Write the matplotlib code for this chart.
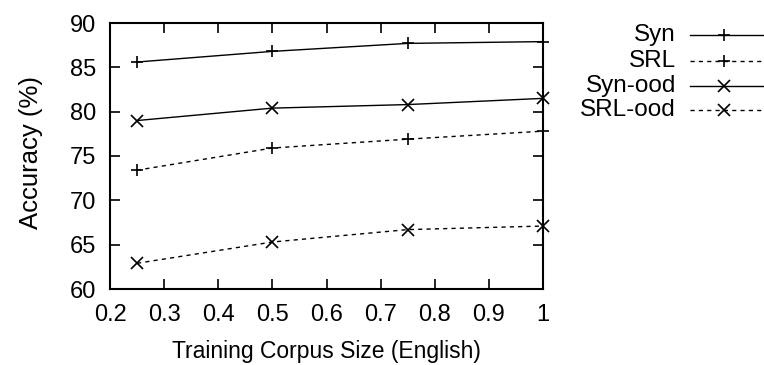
import matplotlib
matplotlib.use("Agg")
import matplotlib.pyplot as plt
from matplotlib.lines import Line2D

plt.rcParams['font.family'] = ['Liberation Sans', 'DejaVu Sans']

sizes = [0.25, 0.5, 0.75, 1.0]
syn = [85.6, 86.8, 87.7, 87.9]
srl = [73.4, 75.9, 76.9, 77.8]
syn_ood = [79.0, 80.4, 80.8, 81.5]
srl_ood = [62.9, 65.3, 66.7, 67.1]
series = [("Syn", syn, '-', '+'), ("SRL", srl, (0, (3, 3)), '+'),
          ("Syn-ood", syn_ood, '-', 'x'), ("SRL-ood", srl_ood, (0, (3, 3)), 'x')]

fig = plt.figure(figsize=(7.64, 3.65), dpi=100)
ax = fig.add_axes([110/764, 1-289/365, 433/764, 266/365])

for name, vals, ls, mk in series:
    ax.plot(sizes, vals, linestyle=ls, marker=mk, color='black', linewidth=1.0,
            markersize=9, markeredgewidth=1.2, clip_on=False)

ax.set_xlim(0.2, 1.0)
ax.set_ylim(60, 90)
ax.set_xticks([0.2, 0.3, 0.4, 0.5, 0.6, 0.7, 0.8, 0.9, 1.0])
ax.set_xticklabels(['0.2', '0.3', '0.4', '0.5', '0.6', '0.7', '0.8', '0.9', '1'])
ax.set_yticks([60, 65, 70, 75, 80, 85, 90])
ax.tick_params(direction='in', top=True, right=True, length=7, width=1.2,
               labelsize=17)
ax.tick_params(axis='y', pad=10)
ax.tick_params(axis='x', pad=11)
for s in ax.spines.values():
    s.set_linewidth(1.5)
ax.set_xlabel('Training Corpus Size (English)', fontsize=16.5, labelpad=10)
ax.set_ylabel('Accuracy (%)', fontsize=18.5)
ax.yaxis.set_label_coords(-0.155, 0.515)

# legend drawn manually outside the axes (gnuplot style)
rows_y = [35, 61, 86, 110]
for (name, vals, ls, mk), yp in zip(series, rows_y):
    fy = 1 - yp/365
    fig.text(676/764, fy, name, ha='right', va='center', fontsize=17.5)
    fig.add_artist(Line2D([690/764, 764/764], [fy, fy], linestyle=ls, color='black',
                          linewidth=1.0, transform=fig.transFigure))
    fig.add_artist(Line2D([724/764], [fy], marker=mk, color='black', markersize=8,
                          markeredgewidth=1.2, transform=fig.transFigure))

fig.savefig('out.png', dpi=100)
